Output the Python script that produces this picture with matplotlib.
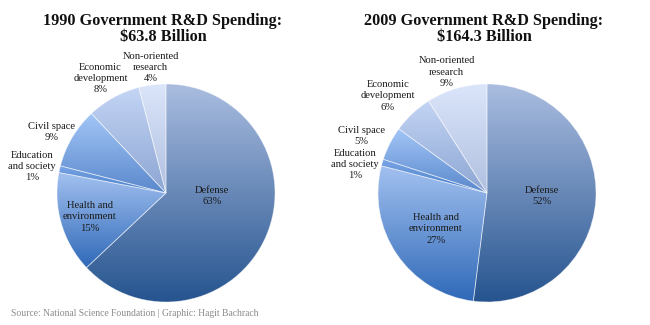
import numpy as np
import matplotlib
matplotlib.use("Agg")
import matplotlib.pyplot as plt
from matplotlib.colors import LinearSegmentedColormap

categories = ["Defense", "Health and\nenvironment", "Education\nand society",
              "Civil space", "Economic\ndevelopment", "Non-oriented\nresearch"]
share_1990 = [63, 15, 1, 9, 8, 4]
share_2009 = [52, 27, 1, 5, 6, 9]
titles = ["1990 Government R&D Spending:\n$63.8 Billion",
          "2009 Government R&D Spending:\n$164.3 Billion"]
source = "Source: National Science Foundation | Graphic: Hagit Bachrach"

# light (top) / dark (bottom) gradient stops per slice
grad_top = ["#aabde0", "#a3c1f0", "#7aa6e6", "#a3c6f7", "#c4d5f5", "#dbe5fa"]
grad_bot = ["#26548f", "#2f69b8", "#467dc8", "#5a88cc", "#8ca5d2", "#b0c0e0"]

# label offsets in units of the radius, per pie
label_pos = [
    [(0.42, -0.03), (-0.70, -0.22), (-1.23, 0.24), (-1.05, 0.56), (-0.60, 1.05), (-0.14, 1.15)],
    [(0.50, -0.03), (-0.47, -0.33), (-1.21, 0.26), (-1.15, 0.52), (-0.91, 0.89), (-0.37, 1.11)],
]
centers = [(166, 132), (487, 132)]
radius = 109

fig = plt.figure(figsize=(6.5, 3.25), dpi=100)
ax = fig.add_axes([0, 0, 1, 1])
ax.axis("off")

serif = "Liberation Serif"

for k, shares in enumerate([share_1990, share_2009]):
    cx, cy = centers[k]
    wedges, _ = ax.pie(shares, center=(cx, cy), radius=radius, startangle=90,
                       counterclock=False, frame=True,
                       wedgeprops=dict(facecolor="none", edgecolor=(1, 1, 1, 0.45),
                                       linewidth=0.6))
    for i, w in enumerate(wedges):
        th = np.radians(np.linspace(w.theta1, w.theta2, 200))
        xs = np.concatenate([[cx], cx + radius * np.cos(th)])
        ys = np.concatenate([[cy], cy + radius * np.sin(th)])
        cmap = LinearSegmentedColormap.from_list("g", [grad_bot[i], grad_top[i]])
        grad = np.linspace(1, 0, 256).reshape(-1, 1)
        im = ax.imshow(grad, cmap=cmap, extent=[xs.min(), xs.max(), ys.min(), ys.max()],
                       aspect="auto", zorder=1, interpolation="bilinear")
        im.set_clip_path(w)
        w.set_zorder(2)

        dx, dy = label_pos[k][i]
        ax.text(cx + dx * radius, cy + dy * radius, f"{categories[i]}\n{shares[i]}%",
                ha="center", va="center", fontsize=7.6, family=serif,
                color="#1a1a1a", linespacing=1.3, zorder=3)

    ax.text(cx - 3, 296, titles[k], ha="center", va="center", fontsize=11.7,
            family=serif, fontweight="bold", color="#111111", linespacing=0.92)

ax.set_aspect("equal")
ax.set_xlim(0, 650)
ax.set_ylim(0, 325)
ax.text(11, 12, source, ha="left", va="center", fontsize=6.9, family=serif,
        color="#8a8a8a")

fig.savefig("out.png", dpi=100)
